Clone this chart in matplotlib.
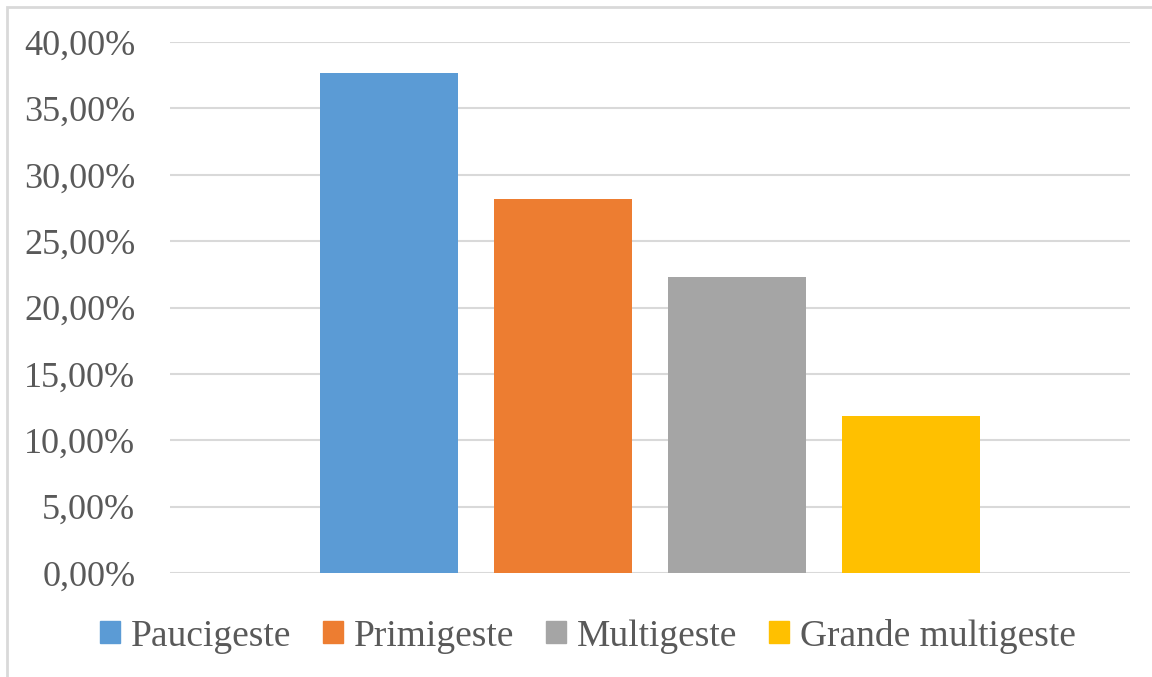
import matplotlib.pyplot as plt
from matplotlib.patches import Rectangle, Patch
from matplotlib.ticker import FuncFormatter

plt.rcParams['font.family'] = ['Liberation Serif', 'DejaVu Serif']

groupes = ['Paucigeste', 'Primigeste', 'Multigeste', 'Grande multigeste']
pourcentages = [37.7, 28.2, 22.3, 11.8]
couleurs = ['#5B9BD5', '#ED7D31', '#A5A5A5', '#FFC000']
gris = '#595959'

fig = plt.figure(figsize=(11.52, 6.77), dpi=100)
ax = fig.add_axes([170/1152, 1 - 573/677, 960/1152, 531/677])

# bars sit side by side inside one category
pos = [-1.5, -0.5, 0.5, 1.5]
for p, v, c in zip(pos, pourcentages, couleurs):
    ax.bar(p, v, width=138/174, color=c, zorder=3)

ax.set_xlim(-480/174, 480/174)
ax.set_ylim(0, 40)
ax.set_yticks(range(0, 41, 5))
ax.yaxis.set_major_formatter(FuncFormatter(lambda v, _: f'{v:.2f}%'.replace('.', ',')))
ax.tick_params(axis='y', length=0, labelsize=26, labelcolor=gris, pad=25)
ax.set_xticks([])
ax.grid(axis='y', color='#D9D9D9', linewidth=1.5, zorder=0)
for s in ax.spines.values():
    s.set_visible(False)

handles = [Patch(color=c) for c in couleurs]
fig.legend(handles, groupes, loc='center', bbox_to_anchor=(588/1152, 1 - 636/677),
           ncol=4, frameon=False, fontsize=27, labelcolor=gris,
           handlelength=0.52, handleheight=0.52, handletextpad=0.3, columnspacing=0.85)

# chart frame, cut at the right and bottom edges
fig.patches.append(Rectangle((7/1152, -0.1), 1.2, 1 - 7/677 + 0.1,
                             transform=fig.transFigure, fill=False,
                             edgecolor='#D9D9D9', linewidth=2))

fig.savefig('out.png', dpi=100)
